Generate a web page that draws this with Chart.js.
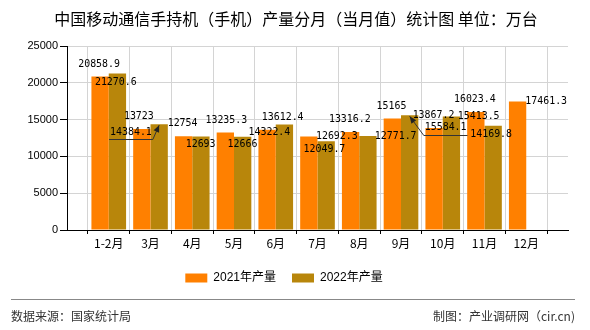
<!DOCTYPE html>
<html><head><meta charset="utf-8">
<script src="https://cdn.jsdelivr.net/npm/chart.js@4.4.1/dist/chart.umd.min.js"></script>
<style>html,body{margin:0;padding:0;background:#fff}#wrap{width:590px;height:330px;position:relative}</style>
</head><body><div id="wrap"><canvas id="c" width="590" height="330"></canvas></div>
<script>
const titleText = '中国移动通信手持机（手机）产量分月（当月值）统计图 单位：万台';
const categories = ['1-2月','3月','4月','5月','6月','7月','8月','9月','10月','11月','12月'];
const values2021 = [20858.9,13723,12754,13235.3,13612.4,12692.3,13316.2,15165,13867.2,16023.4,17461.3];
const values2022 = [21270.6,14384.1,12693,12666,14322.4,12049.7,12771.7,15584.1,15413.5,14169.8,null];
const seriesNames = ['2021年产量','2022年产量'];
const yTicks = [0,5000,10000,15000,20000,25000];
const sourceText = '数据来源：国家统计局';
const creditText = '制图：产业调研网（cir.cn)';

// label placement (style): offsets of label centre from bar top centre
const labelOffsets2021 = [[-1,-12],[-3,-13],[-1,-13],[1,-12],[15.6,-12.4],[28,-0.5],[-0.8,-12.6],[-0.9,-12.5],[-0.6,-12.8],[-1,-12.6],[28.6,-0.6]];
const labelOffsets2022 = [[-1.6,8.5],[-28.2,7.7],[-0.3,7.8],[-0.2,7.6],[-15,8],[-1.7,7.8],[27.8,0.1],[36,12.2],[27.3,-0.7],[-2,8.4],null];
const leaders2022 = [false,true,false,false,false,false,false,true,false,false,false];

const labels = [''].concat(categories, ['']);
const pad = arr => [null].concat(arr, [null]);

Chart.defaults.font.family = '"Liberation Sans","Noto Sans CJK SC",sans-serif';
Chart.defaults.color = '#000';

const valueLabels = {
  id: 'valueLabels',
  afterDatasetsDraw(chart) {
    const ctx = chart.ctx;
    const sx0 = 0.9;
    ctx.save();
    ctx.font = '11px "DejaVu Sans Mono"';
    ctx.fillStyle = '#000';
    ctx.textAlign = 'center';
    ctx.textBaseline = 'middle';
    [[0, labelOffsets2021, null], [1, labelOffsets2022, leaders2022]].forEach(([di, offs, leads]) => {
      const meta = chart.getDatasetMeta(di);
      const data = chart.data.datasets[di].data;
      meta.data.forEach((bar, i) => {
        const v = data[i];
        if (v == null) return;
        const ci = i - 1;
        const off = offs[ci];
        if (!off) return;
        const x = bar.x + off[0], y = bar.y + off[1];
        const txt = String(v);
        ctx.save();
        ctx.translate(x, y);
        ctx.scale(sx0, 1);
        ctx.fillText(txt, 0, 0);
        ctx.restore();
        if (leads && leads[ci]) {
          const w = ctx.measureText(txt).width * sx0;
          const uy = Math.round(y + 7.5) + 0.5, l = x - w / 2 - 1, r = x + w / 2 + 1;
          const sx = bar.x < l ? l : r;
          const tx = bar.x, ty = bar.y + 1;
          ctx.strokeStyle = '#333';
          ctx.lineWidth = 1;
          ctx.beginPath();
          ctx.moveTo(l, uy); ctx.lineTo(r, uy);
          ctx.moveTo(sx, uy); ctx.lineTo(tx, ty);
          ctx.stroke();
          const ang = Math.atan2(ty - uy, tx - sx);
          const hl = 7, hw = 3;
          const bx = tx - hl * Math.cos(ang), by = ty - hl * Math.sin(ang);
          ctx.fillStyle = '#222';
          ctx.beginPath();
          ctx.moveTo(tx, ty);
          ctx.lineTo(bx - hw * Math.sin(ang), by + hw * Math.cos(ang));
          ctx.lineTo(bx + hw * Math.sin(ang), by - hw * Math.cos(ang));
          ctx.closePath();
          ctx.fill();
          ctx.fillStyle = '#000';
        }
      });
    });
    ctx.restore();
  }
};

const frame = {
  id: 'frame',
  afterDraw(chart) {
    const ctx = chart.ctx;
    ctx.save();
    ctx.fillStyle = '#000';
    ctx.font = '16px "Noto Sans CJK SC"';
    ctx.textAlign = 'center';
    ctx.textBaseline = 'middle';
    ctx.fillText(titleText, 296, 19);
    ctx.strokeStyle = '#888';
    ctx.lineWidth = 1;
    ctx.beginPath();
    ctx.moveTo(11, 299.5); ctx.lineTo(575, 299.5);
    ctx.stroke();
    ctx.fillStyle = '#333';
    ctx.font = '12px "Noto Sans CJK SC"';
    ctx.textAlign = 'left';
    ctx.fillText(sourceText, 11, 316);
    ctx.textAlign = 'right';
    ctx.fillText(creditText, 575, 316);
    ctx.restore();
  }
};

new Chart(document.getElementById('c'), {
  type: 'bar',
  data: {
    labels: labels,
    datasets: [
      { label: seriesNames[0], data: pad(values2021), backgroundColor: '#FF8000', borderWidth: 0 },
      { label: seriesNames[1], data: pad(values2022), backgroundColor: '#B8860B', borderWidth: 0 }
    ]
  },
  options: {
    responsive: false,
    animation: false,
    devicePixelRatio: 1,
    categoryPercentage: 0.83,
    barPercentage: 1,
    layout: { padding: { top: 46, left: 0, right: 22, bottom: 36 } },
    plugins: {
      title: { display: false },
      tooltip: { enabled: false },
      legend: {
        position: 'bottom',
        labels: { boxWidth: 22, boxHeight: 9, padding: 16, font: { size: 12 }, color: '#000' }
      }
    },
    scales: {
      x: {
        offset: false,
        grid: { color: '#d4d4d4', tickColor: '#000', tickLength: 4, drawOnChartArea: true },
        border: { color: '#000' },
        ticks: { autoSkip: false, maxRotation: 0, padding: 2, font: { size: 12, family: '"Noto Sans CJK SC"' }, color: '#000' },
        afterFit: s => { s.height = 26; }
      },
      y: {
        min: yTicks[0], max: yTicks[yTicks.length - 1],
        grid: { color: '#d4d4d4', tickColor: '#000', tickLength: 7 },
        border: { color: '#000' },
        ticks: { stepSize: yTicks[1] - yTicks[0], padding: 2, font: { size: 11 }, color: '#000', callback: v => String(v) },
        afterFit: s => { s.width = 67; }
      }
    }
  },
  plugins: [valueLabels, frame]
});
</script>
</body></html>
